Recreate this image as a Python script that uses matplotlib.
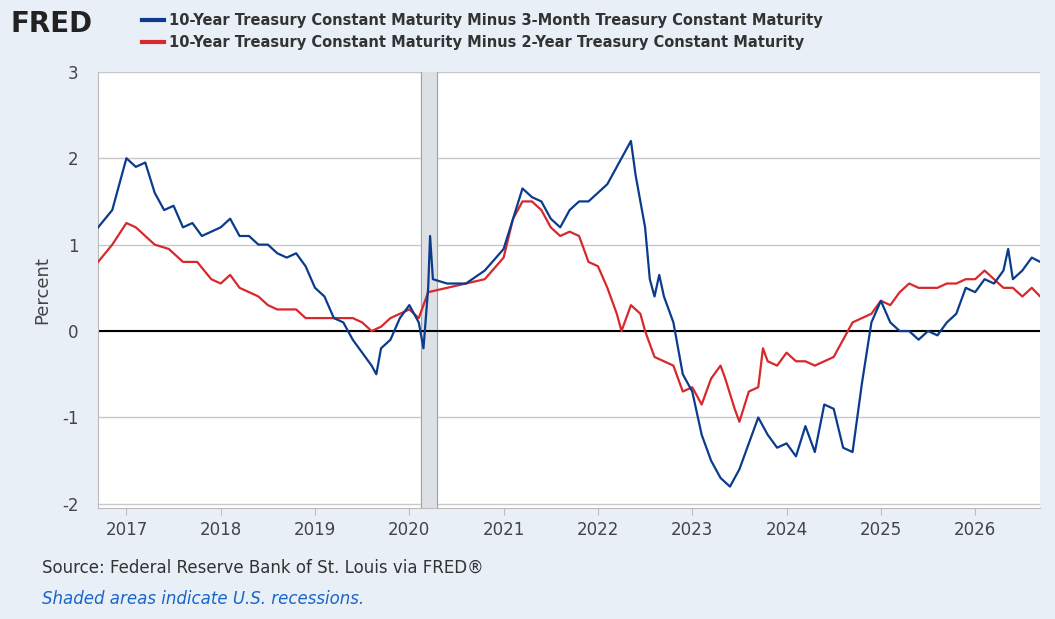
import numpy as np
import matplotlib.pyplot as plt

# 10-Year minus 3-Month (blue)
t3m = [2016.7, 2016.85, 2016.95, 2017.0, 2017.1, 2017.2, 2017.3, 2017.4, 2017.5, 2017.6, 2017.7, 2017.8,
       2017.9, 2018.0, 2018.1, 2018.2, 2018.3, 2018.4, 2018.5, 2018.6, 2018.7, 2018.8, 2018.9, 2019.0,
       2019.1, 2019.2, 2019.3, 2019.4, 2019.5, 2019.6, 2019.65, 2019.7, 2019.8, 2019.9, 2020.0, 2020.1,
       2020.15, 2020.2, 2020.22, 2020.25, 2020.4, 2020.6, 2020.8, 2021.0, 2021.1, 2021.2, 2021.3, 2021.4,
       2021.5, 2021.6, 2021.7, 2021.8, 2021.9, 2022.0, 2022.1, 2022.2, 2022.3, 2022.35, 2022.4, 2022.5,
       2022.55, 2022.6, 2022.65, 2022.7, 2022.8, 2022.9, 2023.0, 2023.1, 2023.2, 2023.3, 2023.4, 2023.5,
       2023.6, 2023.7, 2023.8, 2023.9, 2024.0, 2024.1, 2024.2, 2024.3, 2024.4, 2024.5, 2024.6, 2024.7,
       2024.8, 2024.9, 2025.0, 2025.1, 2025.2, 2025.3, 2025.4, 2025.5, 2025.6, 2025.7, 2025.8, 2025.9,
       2026.0, 2026.1, 2026.2, 2026.3, 2026.35, 2026.4, 2026.5, 2026.6, 2026.69]
v3m = [1.2, 1.4, 1.8, 2.0, 1.9, 1.95, 1.6, 1.4, 1.45, 1.2, 1.25, 1.1,
       1.15, 1.2, 1.3, 1.1, 1.1, 1.0, 1.0, 0.9, 0.85, 0.9, 0.75, 0.5,
       0.4, 0.15, 0.1, -0.1, -0.25, -0.4, -0.5, -0.2, -0.1, 0.15, 0.3, 0.1,
       -0.2, 0.5, 1.1, 0.6, 0.55, 0.55, 0.7, 0.95, 1.3, 1.65, 1.55, 1.5,
       1.3, 1.2, 1.4, 1.5, 1.5, 1.6, 1.7, 1.9, 2.1, 2.2, 1.8, 1.2,
       0.6, 0.4, 0.65, 0.4, 0.1, -0.5, -0.7, -1.2, -1.5, -1.7, -1.8, -1.6,
       -1.3, -1.0, -1.2, -1.35, -1.3, -1.45, -1.1, -1.4, -0.85, -0.9, -1.35, -1.4,
       -0.6, 0.1, 0.35, 0.1, 0.0, 0.0, -0.1, 0.0, -0.05, 0.1, 0.2, 0.5,
       0.45, 0.6, 0.55, 0.7, 0.95, 0.6, 0.7, 0.85, 0.8]

# 10-Year minus 2-Year (red)
t2y = [2016.7, 2016.85, 2017.0, 2017.1, 2017.2, 2017.3, 2017.45, 2017.6, 2017.75, 2017.9, 2018.0, 2018.1,
       2018.2, 2018.3, 2018.4, 2018.5, 2018.6, 2018.7, 2018.8, 2018.9, 2019.0, 2019.2, 2019.4, 2019.5,
       2019.6, 2019.7, 2019.8, 2019.9, 2020.0, 2020.1, 2020.2, 2020.4, 2020.6, 2020.8, 2021.0, 2021.1,
       2021.2, 2021.3, 2021.4, 2021.5, 2021.6, 2021.7, 2021.8, 2021.9, 2022.0, 2022.1, 2022.2, 2022.25,
       2022.35, 2022.45, 2022.5, 2022.6, 2022.7, 2022.8, 2022.9, 2023.0, 2023.1, 2023.2, 2023.3, 2023.35,
       2023.45, 2023.5, 2023.6, 2023.7, 2023.75, 2023.8, 2023.9, 2024.0, 2024.1, 2024.2, 2024.3, 2024.4,
       2024.5, 2024.6, 2024.7, 2024.8, 2024.9, 2025.0, 2025.1, 2025.2, 2025.3, 2025.4, 2025.5, 2025.6,
       2025.7, 2025.8, 2025.9, 2026.0, 2026.1, 2026.2, 2026.3, 2026.4, 2026.5, 2026.6, 2026.69]
v2y = [0.8, 1.0, 1.25, 1.2, 1.1, 1.0, 0.95, 0.8, 0.8, 0.6, 0.55, 0.65,
       0.5, 0.45, 0.4, 0.3, 0.25, 0.25, 0.25, 0.15, 0.15, 0.15, 0.15, 0.1,
       0.0, 0.05, 0.15, 0.2, 0.25, 0.15, 0.45, 0.5, 0.55, 0.6, 0.85, 1.3,
       1.5, 1.5, 1.4, 1.2, 1.1, 1.15, 1.1, 0.8, 0.75, 0.5, 0.2, 0.0,
       0.3, 0.2, 0.0, -0.3, -0.35, -0.4, -0.7, -0.65, -0.85, -0.55, -0.4, -0.55,
       -0.9, -1.05, -0.7, -0.65, -0.2, -0.35, -0.4, -0.25, -0.35, -0.35, -0.4, -0.35,
       -0.3, -0.1, 0.1, 0.15, 0.2, 0.35, 0.3, 0.45, 0.55, 0.5, 0.5, 0.5,
       0.55, 0.55, 0.6, 0.6, 0.7, 0.6, 0.5, 0.5, 0.4, 0.5, 0.4]

recession = (2020.12, 2020.29)
years = list(range(2017, 2027))

bg = '#e8eff7'
fig = plt.figure(figsize=(10.55, 6.19), dpi=100, facecolor=bg)
ax = fig.add_axes([0.093, 0.179, 0.893, 0.705])
ax.set_facecolor('white')

ax.axvspan(*recession, color='#dde1e6', zorder=1)
ax.axvline(recession[0], color='#9aa3ad', lw=0.8, zorder=1)
ax.axvline(recession[1], color='#9aa3ad', lw=0.8, zorder=1)
ax.axhline(0, color='black', lw=1.5, zorder=2)
ax.plot(t3m, v3m, color='#0b3b8c', lw=1.6, zorder=4)
ax.plot(t2y, v2y, color='#d8282b', lw=1.6, zorder=3)

ax.set_xlim(2016.7, 2026.69)
ax.set_ylim(-2.05, 3)
ax.set_yticks([-2, -1, 0, 1, 2, 3])
ax.set_yticklabels(['-2', '-1', '0', '1', '2', '3'])
ax.set_xticks(years)
ax.grid(axis='y', color='#c8c8c8', lw=1)
ax.set_axisbelow(True)
for s in ['top', 'right']:
    ax.spines[s].set_visible(False)
for s in ['left', 'bottom']:
    ax.spines[s].set_color('#bbbbbb')
ax.tick_params(colors='#444444', labelsize=12, length=0, pad=14)
ax.tick_params(axis='x', length=5, color='#bbbbbb', pad=4)
ax.set_ylabel('Percent', fontsize=13, color='#444444', labelpad=8)

fig.text(0.01, 0.962, 'FRED', fontsize=20, fontweight='bold', color='#222222', va='center')
fig.text(0.16, 0.967, '10-Year Treasury Constant Maturity Minus 3-Month Treasury Constant Maturity',
         fontsize=10.5, fontweight='bold', color='#333333', va='center')
fig.text(0.16, 0.932, '10-Year Treasury Constant Maturity Minus 2-Year Treasury Constant Maturity',
         fontsize=10.5, fontweight='bold', color='#333333', va='center')
fig.add_artist(plt.Line2D([0.135, 0.155], [0.967, 0.967], color='#0b3b8c', lw=3))
fig.add_artist(plt.Line2D([0.135, 0.155], [0.932, 0.932], color='#d8282b', lw=3))

fig.text(0.04, 0.075, 'Source: Federal Reserve Bank of St. Louis via FRED®', fontsize=12, color='#333333')
fig.text(0.04, 0.025, 'Shaded areas indicate U.S. recessions.', fontsize=12, color='#1a66c8', style='italic')

fig.savefig('out.png', facecolor=bg)
